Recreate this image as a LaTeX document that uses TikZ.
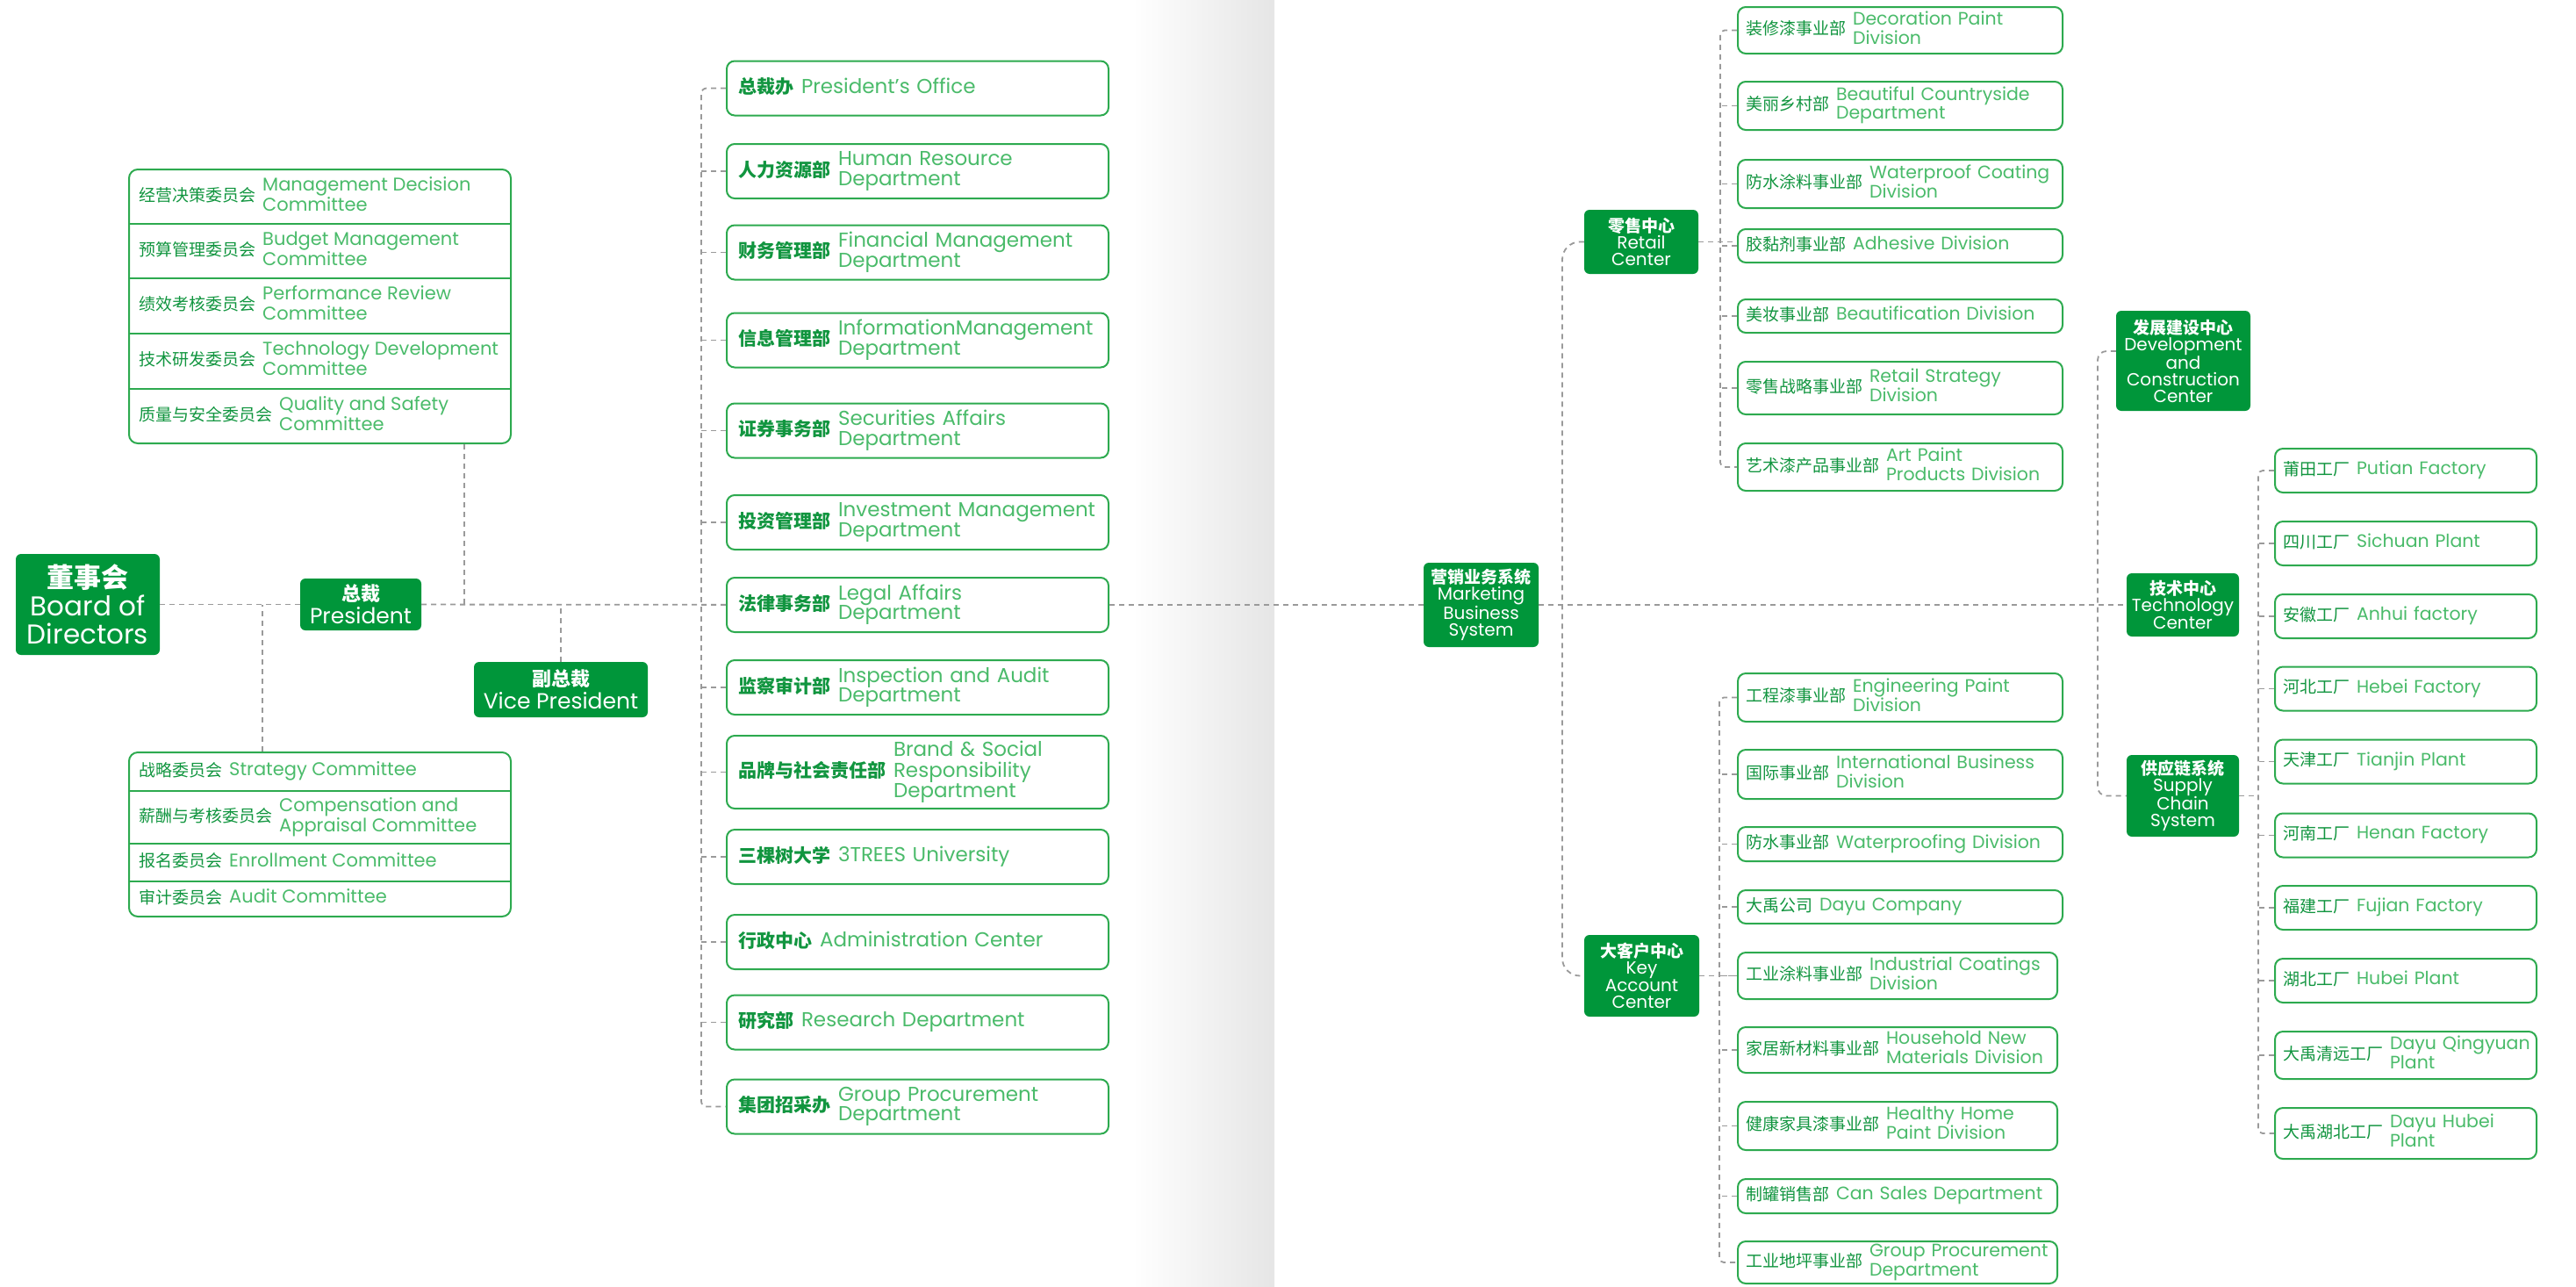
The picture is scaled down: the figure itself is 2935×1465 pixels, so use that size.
\documentclass[tikz,border=0pt]{standalone}
\usepackage{fontspec}
\setmainfont{Poppins}
\newfontfamily\cjk{Noto Sans CJK SC}

\definecolor{boxgreen}{HTML}{00963A}
\definecolor{rimgreen}{HTML}{2DAA4F}
\definecolor{cngreen}{HTML}{11953F}
\definecolor{engreen}{HTML}{4ABB6A}
\definecolor{linegray}{HTML}{9A9A9A}

% chinese name + english name, side by side
\newcommand\bpair[2]{\mbox{{\cjk\bfseries\fontsize{21}{21}\selectfont\color{cngreen}#1}\hspace{9pt}{\color{engreen}\begin{tabular}[c]{@{}l@{}}#2\end{tabular}}}}
\newcommand\rpair[2]{\mbox{{\cjk\fontsize{19}{19}\selectfont\color{cngreen}#1}\hspace{8pt}{\color{engreen}\begin{tabular}[c]{@{}l@{}}#2\end{tabular}}}}
\newcommand\gtitle[1]{{\cjk\bfseries\fontsize{19}{19}\selectfont #1}}

\tikzset{
  conn/.style={draw=linegray, line width=1.8pt, dash pattern=on 6pt off 5pt},
  gbox/.style={fill=boxgreen, rounded corners=6pt, text=white, align=center, inner sep=0pt, font=\fontsize{20}{19}\selectfont},
  wbox/.style={draw=rimgreen, line width=2pt, rounded corners=9pt, fill=white, inner ysep=0pt, align=left},
  deptbox/.style={wbox, minimum width=435pt, text width=409pt, inner xsep=13pt, minimum height=62pt, font=\fontsize{23}{21.5}\selectfont},
  divL/.style={wbox, minimum width=370pt, text width=352pt, inner xsep=9pt, font=\fontsize{20.5}{21.5}\selectfont},
  divS/.style={wbox, minimum width=364pt, text width=346pt, inner xsep=9pt, font=\fontsize{20.5}{21.5}\selectfont},
  facbox/.style={wbox, minimum width=298pt, text width=280pt, inner xsep=9pt, minimum height=50pt, font=\fontsize{20.5}{21.5}\selectfont},
  cmtframe/.style={draw=rimgreen, line width=2pt, rounded corners=10pt, inner sep=0pt, minimum width=435pt},
  cmtrow/.style={anchor=west, inner sep=0pt, font=\fontsize{21}{23}\selectfont},
}

\begin{document}
\begin{tikzpicture}[x=1pt, y=-1pt]
\useasboundingbox (0,0) rectangle (2935,1465);
\shade[left color=white, right color=black!10] (1290,0) rectangle (1452,1465);

% board, president, vice president
\node[gbox, minimum width=164pt, minimum height=115pt, font=\fontsize{31}{32}\selectfont] (board) at (100,688.5) {{\cjk\bfseries\fontsize{31}{31}\selectfont 董事会}\\Board of\\Directors};
\node[gbox, minimum width=138pt, minimum height=59pt, font=\fontsize{25}{26}\selectfont] (pres) at (411,688.5) {{\cjk\bfseries\fontsize{22}{22}\selectfont 总裁}\\President};
\node[gbox, minimum width=198pt, minimum height=63pt, font=\fontsize{25}{26}\selectfont] (vp) at (639,785.5) {{\cjk\bfseries\fontsize{22}{22}\selectfont 副总裁}\\Vice President};

% committees
\node[cmtframe, minimum height=312pt] (upper) at (364.5,349) {};
\foreach \y in {255,317,380,443} \draw[rimgreen, line width=2pt] (upper.west |- 0,\y) -- (upper.east |- 0,\y);
\node[cmtrow] (u1) at (158,224) {\rpair{经营决策委员会}{Management Decision\\Committee}};
\node[cmtrow] (u2) at (158,286) {\rpair{预算管理委员会}{Budget Management\\Committee}};
\node[cmtrow] (u3) at (158,348.5) {\rpair{绩效考核委员会}{Performance Review\\Committee}};
\node[cmtrow] (u4) at (158,411.5) {\rpair{技术研发委员会}{Technology Development\\Committee}};
\node[cmtrow] (u5) at (158,474) {\rpair{质量与安全委员会}{Quality and Safety\\Committee}};

\node[cmtframe, minimum height=187pt] (lower) at (364.5,950.5) {};
\foreach \y in {901,961,1004} \draw[rimgreen, line width=2pt] (lower.west |- 0,\y) -- (lower.east |- 0,\y);
\node[cmtrow] (l1) at (158,879) {\rpair{战略委员会}{Strategy Committee}};
\node[cmtrow] (l2) at (158,931) {\rpair{薪酬与考核委员会}{Compensation and\\Appraisal Committee}};
\node[cmtrow] (l3) at (158,982.5) {\rpair{报名委员会}{Enrollment Committee}};
\node[cmtrow] (l4) at (158,1024) {\rpair{审计委员会}{Audit Committee}};

% departments
\node[deptbox] (d1) at (1045.5,100.5) {\bpair{总裁办}{President's Office}};
\node[deptbox] (d2) at (1045.5,195) {\bpair{人力资源部}{Human Resource\\Department}};
\node[deptbox] (d3) at (1045.5,287.5) {\bpair{财务管理部}{Financial Management\\Department}};
\node[deptbox] (d4) at (1045.5,387.5) {\bpair{信息管理部}{InformationManagement\\Department}};
\node[deptbox] (d5) at (1045.5,490.5) {\bpair{证券事务部}{Securities Affairs\\Department}};
\node[deptbox] (d6) at (1045.5,595) {\bpair{投资管理部}{Investment Management\\Department}};
\node[deptbox] (d7) at (1045.5,689) {\bpair{法律事务部}{Legal Affairs\\Department}};
\node[deptbox] (d8) at (1045.5,783) {\bpair{监察审计部}{Inspection and Audit\\Department}};
\node[deptbox, minimum height=83pt] (d9) at (1045.5,879.5) {\bpair{品牌与社会责任部}{Brand \& Social\\Responsibility\\Department}};
\node[deptbox] (d10) at (1045.5,976) {\bpair{三棵树大学}{3TREES University}};
\node[deptbox] (d11) at (1045.5,1073) {\bpair{行政中心}{Administration Center}};
\node[deptbox] (d12) at (1045.5,1164.5) {\bpair{研究部}{Research Department}};
\node[deptbox] (d13) at (1045.5,1260.5) {\bpair{集团招采办}{Group Procurement\\Department}};

% marketing side
\node[gbox, minimum width=131pt, minimum height=96pt] (mkt) at (1687.5,689) {\gtitle{营销业务系统}\\Marketing\\Business\\System};
\node[gbox, minimum width=130pt, minimum height=73pt] (retail) at (1870,275.5) {\gtitle{零售中心}\\Retail\\Center};
\node[gbox, minimum width=131pt, minimum height=93pt] (key) at (1870.5,1111.5) {\gtitle{大客户中心}\\Key\\Account\\Center};

\node[divL, minimum height=53pt] (r1) at (2165,34.5) {\rpair{装修漆事业部}{Decoration Paint\\Division}};
\node[divL, minimum height=55pt] (r2) at (2165,120.5) {\rpair{美丽乡村部}{Beautiful Countryside\\Department}};
\node[divL, minimum height=55pt] (r3) at (2165,209.5) {\rpair{防水涂料事业部}{Waterproof Coating\\Division}};
\node[divL, minimum height=38pt] (r4) at (2165,280) {\rpair{胶黏剂事业部}{Adhesive Division}};
\node[divL, minimum height=38pt] (r5) at (2165,360) {\rpair{美妆事业部}{Beautification Division}};
\node[divL, minimum height=60pt] (r6) at (2165,442) {\rpair{零售战略事业部}{Retail Strategy\\Division}};
\node[divL, minimum height=54pt] (r7) at (2165,532) {\rpair{艺术漆产品事业部}{Art Paint\\Products Division}};

\node[divL, minimum height=55pt] (k1) at (2165,794.5) {\rpair{工程漆事业部}{Engineering Paint\\Division}};
\node[divL, minimum height=56pt] (k2) at (2165,882) {\rpair{国际事业部}{International Business\\Division}};
\node[divL, minimum height=39pt] (k3) at (2165,961.5) {\rpair{防水事业部}{Waterproofing Division}};
\node[divL, minimum height=38pt] (k4) at (2165,1033) {\rpair{大禹公司}{Dayu Company}};
\node[divS, minimum height=53pt] (k5) at (2162,1111.5) {\rpair{工业涂料事业部}{Industrial Coatings\\Division}};
\node[divS, minimum height=52pt] (k6) at (2162,1196) {\rpair{家居新材料事业部}{Household New\\Materials Division}};
\node[divS, minimum height=55pt] (k7) at (2162,1282.5) {\rpair{健康家具漆事业部}{Healthy Home\\Paint Division}};
\node[divS, minimum height=39pt] (k8) at (2162,1362.5) {\rpair{制罐销售部}{Can Sales Department}};
\node[divS, minimum height=48pt] (k9) at (2162,1438) {\rpair{工业地坪事业部}{Group Procurement\\Department}};

% centers and factories
\node[gbox, minimum width=153pt, minimum height=114pt] (dev) at (2487.5,411) {\gtitle{发展建设中心}\\Development\\and\\Construction\\Center};
\node[gbox, minimum width=128pt, minimum height=72pt] (tech) at (2487,689) {\gtitle{技术中心}\\Technology\\Center};
\node[gbox, minimum width=128pt, minimum height=93pt] (supply) at (2487,906.5) {\gtitle{供应链系统}\\Supply\\Chain\\System};

\node[facbox] (f1) at (2741,536) {\rpair{莆田工厂}{Putian Factory}};
\node[facbox] (f2) at (2741,619) {\rpair{四川工厂}{Sichuan Plant}};
\node[facbox] (f3) at (2741,702) {\rpair{安徽工厂}{Anhui factory}};
\node[facbox] (f4) at (2741,784.5) {\rpair{河北工厂}{Hebei Factory}};
\node[facbox] (f5) at (2741,867.5) {\rpair{天津工厂}{Tianjin Plant}};
\node[facbox] (f6) at (2741,951.5) {\rpair{河南工厂}{Henan Factory}};
\node[facbox] (f7) at (2741,1034) {\rpair{福建工厂}{Fujian Factory}};
\node[facbox] (f8) at (2741,1117) {\rpair{湖北工厂}{Hubei Plant}};
\node[facbox, minimum height=54pt] (f9) at (2741,1202) {\rpair{大禹清远工厂}{Dayu Qingyuan\\Plant}};
\node[facbox, minimum height=58pt] (f10) at (2741,1291) {\rpair{大禹湖北工厂}{Dayu Hubei\\Plant}};

% connectors
\coordinate (ucol) at (529,689);
\coordinate (lcol) at (299,689);
\coordinate (dcol) at (799,689);
\coordinate (mcol) at (1780,689);
\coordinate (rcol) at (1960,300);
\coordinate (kcol) at (1959,1100);
\coordinate (ccol) at (2390,689);
\coordinate (fcol) at (2573,900);

\draw[conn] (board) -- (pres);
\draw[conn] (pres) -- (d7);
\draw[conn] (upper.south -| ucol) -- (ucol);
\draw[conn] (lower.north -| lcol) -- (lcol);
\draw[conn] (vp) -- (vp |- pres);

\draw[conn, rounded corners=6pt] (d1.west) -| (dcol) |- (d13.west);
\foreach \i in {2,...,12} \draw[conn] (d\i.west) -- (d\i.west -| dcol);

\draw[conn] (d7) -- (mkt);
\draw[conn] (mkt) -- (tech);
\draw[conn, rounded corners=20pt] (retail.west) -| (mcol) |- (key.west);

\draw[conn, rounded corners=5pt] (r1.west) -| (rcol) |- (r7.west);
\foreach \i in {2,...,6} \draw[conn] (r\i.west) -- (r\i.west -| rcol);
\draw[conn] (retail.east) -- (retail.east -| r4.west);

\draw[conn, rounded corners=5pt] (k1.west) -| (kcol) |- (k9.west);
\foreach \i in {2,...,8} \draw[conn] (k\i.west) -- (k\i.west -| kcol);
\draw[conn] (key.east) -- (key.east -| k5.west);

\draw[conn, rounded corners=10pt] ([yshift=11pt]dev.west) -| (ccol) |- (supply.west);
\draw[conn, rounded corners=5pt] (f1.west) -| (fcol) |- (f10.west);
\foreach \i in {2,...,9} \draw[conn] (f\i.west) -- (f\i.west -| fcol);
\draw[conn] (supply.east) -- (supply.east -| fcol);

\end{tikzpicture}
\end{document}
